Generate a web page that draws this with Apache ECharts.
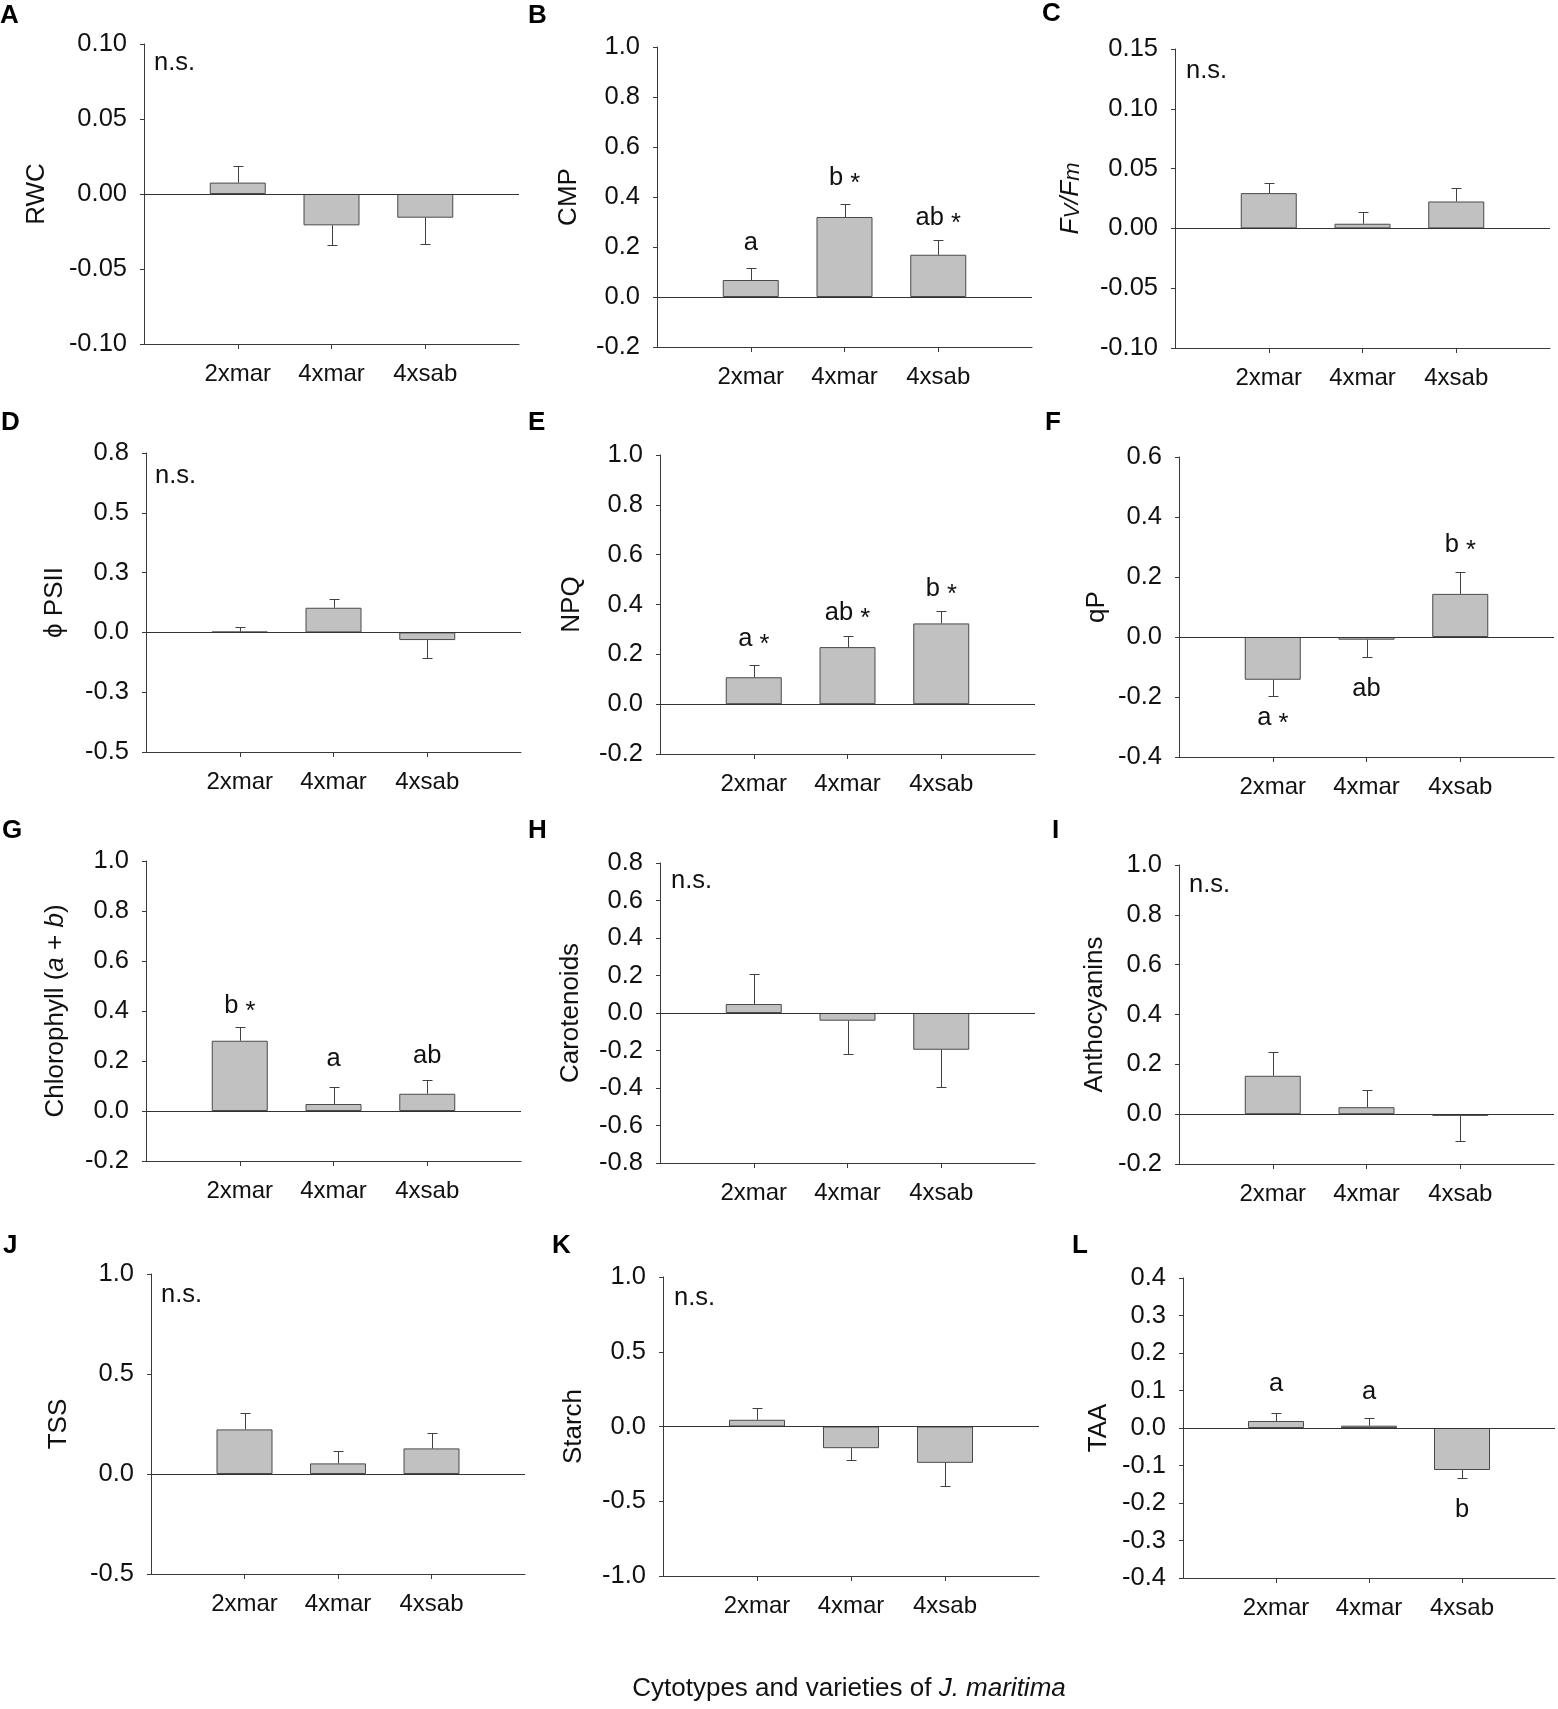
<!DOCTYPE html>
<html>
<head>
<meta charset="utf-8">
<script src="https://cdn.jsdelivr.net/npm/echarts@6/dist/echarts.min.js"></script>
<style>
  html, body { margin: 0; padding: 0; background: #fff; }
  #main { width: 1558px; height: 1709px; }
</style>
</head>
<body>
<div id="main"></div>
<script>
// categories shared by all panels
var cats = ['2xmar', '4xmar', '4xsab'];

// A  RWC
var rwcMean = [0.0076, -0.0209, -0.0158];
var rwcErr  = [0.0114, 0.0133, 0.0178];
var rwcTicks = ['-0.10', '-0.05', '0.00', '0.05', '0.10'];
// B  CMP
var cmpMean = [0.068, 0.320, 0.169];
var cmpErr  = [0.048, 0.052, 0.059];
var cmpTicks = ['-0.2', '0.0', '0.2', '0.4', '0.6', '0.8', '1.0'];
var cmpLetters = ['a', 'b *', 'ab *'];
var cmpLetterY = [0.179, 0.441, 0.279];
// C  Fv/Fm
var fvfmMean = [0.0295, 0.0039, 0.0225];
var fvfmErr  = [0.0086, 0.0097, 0.0115];
var fvfmTicks = ['-0.10', '-0.05', '0.00', '0.05', '0.10', '0.15'];
// D  phi PSII
var psiiMean = [0.003, 0.103, -0.032];
var psiiErr  = [0.021, 0.038, 0.073];
var psiiTicks = ['-0.5', '-0.3', '0.0', '0.3', '0.5', '0.8'];
// E  NPQ
var npqMean = [0.108, 0.229, 0.324];
var npqErr  = [0.049, 0.043, 0.048];
var npqTicks = ['-0.2', '0.0', '0.2', '0.4', '0.6', '0.8', '1.0'];
var npqLetters = ['a *', 'ab *', 'b *'];
var npqLetterY = [0.226, 0.329, 0.425];
// F  qP
var qpMean = [-0.1425, -0.009, 0.1437];
var qpErr  = [0.0525, 0.058, 0.073];
var qpTicks = ['-0.4', '-0.2', '0.0', '0.2', '0.4', '0.6'];
var qpLetters = ['a *', 'ab', 'b *'];
var qpLetterY = [-0.301, -0.203, 0.278];
// G  Chlorophyll (a + b)
var chlMean = [0.281, 0.028, 0.069];
var chlErr  = [0.054, 0.068, 0.056];
var chlTicks = ['-0.2', '0.0', '0.2', '0.4', '0.6', '0.8', '1.0'];
var chlLetters = ['b *', 'a', 'ab'];
var chlLetterY = [0.386, 0.172, 0.185];
// H  Carotenoids
var carMean = [0.048, -0.041, -0.196];
var carErr  = [0.158, 0.176, 0.200];
var carTicks = ['-0.8', '-0.6', '-0.4', '-0.2', '0.0', '0.2', '0.4', '0.6', '0.8'];
// I  Anthocyanins
var antMean = [0.154, 0.028, -0.007];
var antErr  = [0.097, 0.067, 0.101];
var antTicks = ['-0.2', '0.0', '0.2', '0.4', '0.6', '0.8', '1.0'];
// J  TSS
var tssMean = [0.223, 0.053, 0.128];
var tssErr  = [0.080, 0.060, 0.075];
var tssTicks = ['-0.5', '0.0', '0.5', '1.0'];
// K  Starch
var starchMean = [0.045, -0.145, -0.243];
var starchErr  = [0.082, 0.082, 0.158];
var starchTicks = ['-1.0', '-0.5', '0.0', '0.5', '1.0'];
// L  TAA
var taaMean = [0.0187, 0.0062, -0.112];
var taaErr  = [0.0223, 0.0218, 0.022];
var taaTicks = ['-0.4', '-0.3', '-0.2', '-0.1', '0.0', '0.1', '0.2', '0.3', '0.4'];
var taaLetters = ['a', 'a', 'b'];
var taaLetterY = [0.094, 0.073, -0.243];

var FONT = '"Liberation Sans", Arial, sans-serif';

var panels = [
  { tag: 'A', name: 'RWC', mean: rwcMean, err: rwcErr, min: -0.10, max: 0.10, step: 0.05, ticks: rwcTicks, ns: true },
  { tag: 'B', name: 'CMP', mean: cmpMean, err: cmpErr, min: -0.2, max: 1.0, step: 0.2, ticks: cmpTicks, letters: cmpLetters, letterY: cmpLetterY },
  { tag: 'C', name: '{i|F}{v|V}{i|/F}{v|m}', mean: fvfmMean, err: fvfmErr, min: -0.10, max: 0.15, step: 0.05, ticks: fvfmTicks, ns: true },
  { tag: 'D', name: 'ϕ PSII', mean: psiiMean, err: psiiErr, min: -0.5, max: 0.75, step: 0.25, ticks: psiiTicks, ns: true },
  { tag: 'E', name: 'NPQ', mean: npqMean, err: npqErr, min: -0.2, max: 1.0, step: 0.2, ticks: npqTicks, letters: npqLetters, letterY: npqLetterY },
  { tag: 'F', name: 'qP', mean: qpMean, err: qpErr, min: -0.4, max: 0.6, step: 0.2, ticks: qpTicks, letters: qpLetters, letterY: qpLetterY },
  { tag: 'G', name: 'Chlorophyll ({i|a} + {i|b})', mean: chlMean, err: chlErr, min: -0.2, max: 1.0, step: 0.2, ticks: chlTicks, letters: chlLetters, letterY: chlLetterY },
  { tag: 'H', name: 'Carotenoids', mean: carMean, err: carErr, min: -0.8, max: 0.8, step: 0.2, ticks: carTicks, ns: true },
  { tag: 'I', name: 'Anthocyanins', mean: antMean, err: antErr, min: -0.2, max: 1.0, step: 0.2, ticks: antTicks, ns: true },
  { tag: 'J', name: 'TSS', mean: tssMean, err: tssErr, min: -0.5, max: 1.0, step: 0.5, ticks: tssTicks, ns: true },
  { tag: 'K', name: 'Starch', mean: starchMean, err: starchErr, min: -1.0, max: 1.0, step: 0.5, ticks: starchTicks, ns: true },
  { tag: 'L', name: 'TAA', mean: taaMean, err: taaErr, min: -0.4, max: 0.4, step: 0.1, ticks: taaTicks, letters: taaLetters, letterY: taaLetterY }
];

// layout: grid [left, top, width, height], name gap, n.s. offset [dx, dy], panel letter [x, baseline]
var grids = [
  [144, 44, 375, 300], [657, 47, 375, 300], [1175, 49, 375, 299],
  [146, 453, 375, 299], [660, 455, 375, 299], [1179, 457, 375, 300],
  [146, 861, 375, 300], [660, 863, 375, 300], [1179, 865, 375, 299],
  [151, 1274, 374, 300], [663, 1277, 376, 299], [1183, 1278, 375, 300]
];
var nameGaps = [94, 75, 91, 78, 75, 69, 77, 76, 71, 79, 76, 71];
var nsOffset = [[10, 19], null, [11, 22], [9, 23], null, null, null, [11, 18], [10, 20], [10, 21], [11, 21], null];
var tagPos = [[0, 25], [528, 25], [1042, 23], [1, 432], [528, 432], [1045, 432],
              [2, 840], [528, 840], [1052, 840], [3, 1255], [552, 1255], [1072, 1255]];

var option = {
  animation: false,
  backgroundColor: '#fff',
  textStyle: { fontFamily: FONT },
  grid: [], xAxis: [], yAxis: [], series: [], graphic: []
};

function letterRich(t) {
  var parts = t.split(' ');
  return parts.length > 1 ? '{t|' + parts[0] + ' }{s|' + parts[1] + '}' : '{t|' + t + '}';
}

panels.forEach(function (p, i) {
  var g = grids[i];
  option.grid.push({ left: g[0], top: g[1], width: g[2], height: g[3] });

  option.xAxis.push({
    type: 'category', gridIndex: i, boundaryGap: false,
    data: [''].concat(cats).concat(['']),
    axisLine: { onZero: false, lineStyle: { color: '#3a3a3a', width: 1 } },
    axisTick: { show: true, length: 5, interval: function (idx) { return idx > 0 && idx < 4; },
                lineStyle: { color: '#3a3a3a' } },
    axisLabel: { interval: 0, fontSize: 24, color: '#111', margin: 18, fontFamily: FONT },
    splitLine: { show: false }
  });

  option.yAxis.push({
    type: 'value', gridIndex: i, min: p.min, max: p.max, interval: p.step,
    axisLine: { show: true, lineStyle: { color: '#3a3a3a', width: 1 } },
    axisTick: { show: true, length: 4, lineStyle: { color: '#3a3a3a' } },
    axisLabel: {
      fontSize: 25.5, color: '#111', margin: 17, fontFamily: FONT,
      formatter: function (v) { return p.ticks[Math.round((v - p.min) / p.step)]; }
    },
    splitLine: { show: false },
    name: p.name, nameLocation: 'middle', nameGap: nameGaps[i],
    nameTextStyle: {
      fontSize: 26, color: '#111', fontFamily: FONT,
      rich: {
        i: { fontSize: 26, fontStyle: 'italic', color: '#111', fontFamily: FONT },
        v: { fontSize: 22, fontStyle: 'italic', color: '#111', fontFamily: FONT, verticalAlign: 'bottom' }
      }
    }
  });

  option.series.push({
    type: 'bar', xAxisIndex: i, yAxisIndex: i, barWidth: 56,
    data: p.mean.map(function (v, k) { return [k + 1, v]; }),
    itemStyle: { color: '#c1c1c1', borderColor: '#4a4a4a', borderWidth: 1 },
    markLine: {
      silent: true, symbol: 'none', label: { show: false },
      lineStyle: { color: '#333', width: 1, type: 'solid' },
      data: [{ yAxis: 0 }]
    },
    z: 2
  });

  option.series.push({
    type: 'custom', xAxisIndex: i, yAxisIndex: i, z: 3, silent: true,
    encode: { x: 0, y: 1 },
    data: p.mean.map(function (v, k) { return [k + 1, v, p.err[k]]; }),
    renderItem: function (params, api) {
      var m = api.value(1), e = api.value(2);
      var dir = m < 0 ? -1 : 1;
      var a = api.coord([api.value(0), m]);
      var b = api.coord([api.value(0), m + dir * e]);
      var x = Math.round(a[0]) + 0.5, y2 = Math.round(b[1]) + 0.5;
      var st = { stroke: '#404040', lineWidth: 1 };
      return { type: 'group', children: [
        { type: 'line', shape: { x1: x, y1: a[1], x2: x, y2: y2 }, style: st },
        { type: 'line', shape: { x1: x - 5, y1: y2, x2: x + 5, y2: y2 }, style: st }
      ] };
    }
  });

  if (p.letters) {
    option.series.push({
      type: 'scatter', xAxisIndex: i, yAxisIndex: i, symbolSize: 0, silent: true, z: 4,
      itemStyle: { opacity: 1, color: '#000' },
      data: p.letters.map(function (t, k) { return { name: t, value: [k + 1, p.letterY[k]] }; }),
      label: {
        show: true, position: 'inside', offset: [0, -6], color: '#000',
        formatter: function (d) { return letterRich(d.name); },
        rich: {
          t: { fontSize: 25.5, lineHeight: 25, color: '#111', fontFamily: FONT, padding: [0, 0, 6, 0] },
          s: { fontSize: 25.5, lineHeight: 25, color: '#111', fontFamily: FONT, padding: [6, 0, 0, 0] }
        }
      }
    });
  }

  if (nsOffset[i]) {
    option.graphic.push({
      type: 'text', x: g[0] + nsOffset[i][0], y: g[1] + nsOffset[i][1],
      style: { text: 'n.s.', font: '25.5px ' + FONT, fill: '#111',
               align: 'left', verticalAlign: 'middle', textAlign: 'left', textVerticalAlign: 'middle' }
    });
  }

  option.graphic.push({
    type: 'text', x: tagPos[i][0], y: tagPos[i][1] - 9,
    style: { text: p.tag, font: 'bold 26px ' + FONT, fill: '#000',
             align: 'left', verticalAlign: 'middle', textAlign: 'left', textVerticalAlign: 'middle' }
  });
});

option.graphic.push({
  type: 'text', x: 849, y: 1689,
  style: {
    text: '{n|Cytotypes and varieties of }{i|J. maritima}',
    align: 'center', verticalAlign: 'middle', textAlign: 'center', textVerticalAlign: 'middle',
    rich: {
      n: { fontSize: 26, fontFamily: FONT, fill: '#111', color: '#111' },
      i: { fontSize: 26, fontFamily: FONT, fontStyle: 'italic', fill: '#111', color: '#111' }
    }
  }
});

var chart = echarts.init(document.getElementById('main'), null, { renderer: 'canvas' });
chart.setOption(option);
</script>
</body>
</html>
